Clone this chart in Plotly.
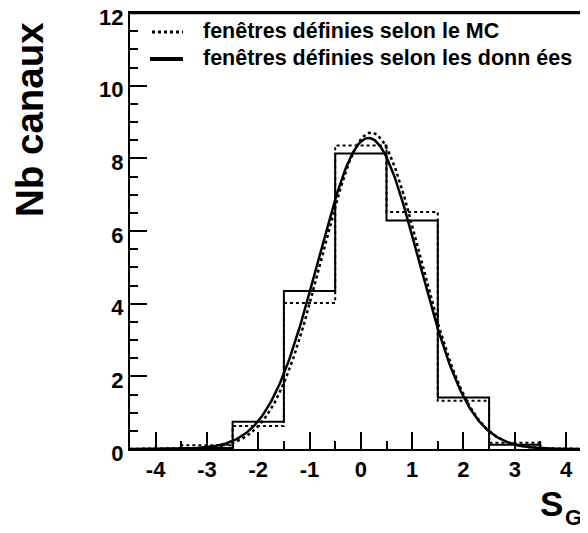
import numpy as np
import plotly.graph_objects as go

# ---- data ----
bin_centers = [-4, -3, -2, -1, 0, 1, 2, 3, 4]
bin_width = 1.0
counts_mc = [0.0, 0.10, 0.63, 4.02, 8.35, 6.52, 1.33, 0.17, 0.0]
counts_data = [0.0, 0.03, 0.75, 4.35, 8.13, 6.29, 1.42, 0.12, 0.0]
# Gaussian fit parameters (amplitude, mean, sigma)
fit_mc = [8.71, 0.20, 0.96]
fit_data = [8.56, 0.15, 0.98]
label_mc = "fenêtres définies selon le MC"
label_data = "fenêtres définies selon les donn ées"
x_ticks = [-4, -3, -2, -1, 0, 1, 2, 3, 4]
y_ticks = [0, 2, 4, 6, 8, 10, 12]

FONT = "Liberation Sans, Arial, Helvetica, sans-serif"


def step_xy(centers, vals, w):
    c = np.asarray(centers, float)
    v = np.asarray(vals, float)
    xs = np.append(c - w / 2, c[-1] + w / 2)
    ys = np.append(v, v[-1])
    return xs, ys


def gauss(params, x):
    a, m, s = params
    return a * np.exp(-0.5 * ((x - m) / s) ** 2)


xg = np.linspace(-4.5, 4.5, 400)

# page layout (browser body has an 8px margin)
OFF = 8
PL, PT, PB, PR = 130, 13, 449, 588       # plot area in page pixels
W, H = PR - OFF, 533 - OFF
pw, ph = PR - PL, PB - PT


def fx(px):
    return (px - PL) / pw


def fy(py):
    return (PB - py) / ph


fig = go.Figure()

xs, ys = step_xy(bin_centers, counts_mc, bin_width)
fig.add_trace(go.Scatter(x=xs, y=ys, mode="lines", line=dict(color="black", width=2, dash="dot", shape="hv"),
                         name=label_mc, showlegend=False))
xs, ys = step_xy(bin_centers, counts_data, bin_width)
fig.add_trace(go.Scatter(x=xs, y=ys, mode="lines", line=dict(color="black", width=2, shape="hv"),
                         name=label_data, showlegend=False))
fig.add_trace(go.Scatter(x=xg, y=gauss(fit_mc, xg), mode="lines",
                         line=dict(color="black", width=2.5, dash="dot"), showlegend=False))
fig.add_trace(go.Scatter(x=xg, y=gauss(fit_data, xg), mode="lines",
                         line=dict(color="black", width=2.5), showlegend=False))

axis_common = dict(showline=True, linecolor="black", linewidth=2, showgrid=False, zeroline=False,
                   ticks="inside", ticklen=17, tickwidth=2, tickcolor="black",
                   ticklabeloverflow="allow", automargin=False,
                   tickfont=dict(size=22, weight="bold", family=FONT),
                   minor=dict(dtick=0.5, ticks="inside", ticklen=8, tickwidth=2,
                              tickcolor="black", showgrid=False))

fig.update_layout(
    width=W, height=H,
    margin=dict(l=PL - OFF, r=0, t=PT - OFF, b=H - (PB - OFF)),
    paper_bgcolor="white", plot_bgcolor="white",
    font=dict(family=FONT, color="black"),
    showlegend=False,
    xaxis=dict(range=[-4.5, -4.5 + pw / 51.3], mirror=True,
               tickmode="array", tickvals=x_ticks, ticktext=[str(t) for t in x_ticks], **axis_common),
    yaxis=dict(range=[0, 12], ticklabelshift=4,
               tickmode="array", tickvals=y_ticks, ticktext=[str(t) for t in y_ticks], **axis_common),
)

# top frame line
fig.add_shape(type="line", xref="paper", yref="paper", x0=0, x1=1, y0=1, y1=1,
              line=dict(color="black", width=2.5))

# legend (drawn manually to match the ROOT-style legend)
fig.add_shape(type="line", xref="paper", yref="paper", x0=fx(152), x1=fx(183), y0=fy(32), y1=fy(32),
              line=dict(color="black", width=3, dash="dot"))
fig.add_shape(type="line", xref="paper", yref="paper", x0=fx(150), x1=fx(183), y0=fy(59), y1=fy(59),
              line=dict(color="black", width=4))
fig.add_annotation(text=label_mc, xref="paper", yref="paper", x=fx(201), y=fy(31),
                   xanchor="left", yanchor="middle", showarrow=False,
                   font=dict(size=21.5, weight="bold", family=FONT))
fig.add_annotation(text=label_data, xref="paper", yref="paper", x=fx(201), y=fy(58),
                   xanchor="left", yanchor="middle", showarrow=False,
                   font=dict(size=21.5, weight="bold", family=FONT))

fig.add_annotation(text="Nb canaux", textangle=-90, xref="paper", yref="paper",
                   x=fx(29), y=fy(120), xanchor="center", yanchor="middle",
                   showarrow=False, font=dict(size=38.5, weight="bold", family=FONT))
fig.add_annotation(text="S", xref="paper", yref="paper",
                   x=fx(538), y=fy(503), xanchor="left", yanchor="middle",
                   showarrow=False, font=dict(size=35, weight="bold", family=FONT))
fig.add_annotation(text="G", xref="paper", yref="paper",
                   x=fx(563), y=fy(517), xanchor="left", yanchor="middle",
                   showarrow=False, font=dict(size=22, weight="bold", family=FONT))

fig.write_html("out.html")
